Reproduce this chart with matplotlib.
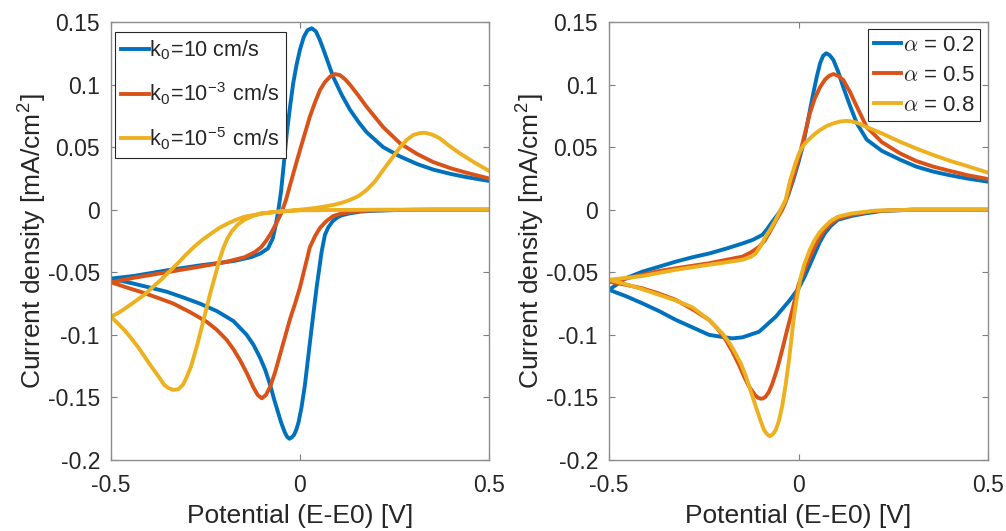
import matplotlib
matplotlib.use("Agg")
import matplotlib.pyplot as plt

plt.rcParams["font.family"] = ["Liberation Sans", "DejaVu Sans"]
plt.rcParams["mathtext.fontset"] = "cm"
plt.rcParams["axes.unicode_minus"] = False

COLORS = ["#0072BD", "#D95319", "#EDB120"]

# ---- left panel: effect of k0 (sweep 0.5 -> -0.5 -> 0.5) ----
k_blue_E = [0.5, 0.35, 0.25, 0.2, 0.16, 0.13, 0.11, 0.1, 0.087, 0.075, 0.066, 0.057, 0.044, 0.031, 0.022,
            0.013, 0.004, -0.004, -0.01, -0.016, -0.022, -0.028, -0.034, -0.04, -0.05, -0.057, -0.068, -0.079,
            -0.092, -0.106, -0.123, -0.141, -0.176, -0.22, -0.265, -0.31, -0.353, -0.4, -0.441, -0.5,
            -0.441, -0.353, -0.265, -0.176, -0.13, -0.105, -0.085, -0.072, -0.064, -0.057, -0.05, -0.043,
            -0.035, -0.026, -0.018, -0.009, 0.0, 0.01, 0.02, 0.031, 0.042, 0.052, 0.062, 0.075, 0.088, 0.11,
            0.132, 0.155, 0.176, 0.22, 0.265, 0.31, 0.353, 0.4, 0.441, 0.5]
k_blue_I = [0.0, 0.0, -0.0003, -0.0008, -0.0015, -0.003, -0.0045, -0.006, -0.009, -0.014, -0.02, -0.034, -0.062,
            -0.094, -0.117, -0.14, -0.158, -0.17, -0.176, -0.18, -0.182, -0.183, -0.1815, -0.178, -0.17, -0.163,
            -0.152, -0.14, -0.128, -0.118, -0.108, -0.1, -0.089, -0.081, -0.075, -0.07, -0.0655, -0.062,
            -0.059, -0.055,
            -0.053, -0.0485, -0.0445, -0.041, -0.038, -0.035, -0.031, -0.023, -0.012, 0.0, 0.015, 0.036,
            0.061, 0.083, 0.101, 0.116, 0.128, 0.138, 0.1435, 0.145, 0.1425, 0.136, 0.128, 0.117, 0.106, 0.092,
            0.08, 0.07, 0.062, 0.05, 0.0425, 0.0365, 0.032, 0.0285, 0.026, 0.023]

k_orange_E = [0.5, 0.3, 0.2, 0.16, 0.132, 0.11, 0.088, 0.07, 0.053, 0.04, 0.026, 0.018, 0.009, 0.0, -0.013,
              -0.026, -0.04, -0.053, -0.066, -0.079, -0.09, -0.101, -0.112, -0.124, -0.14, -0.159, -0.175,
              -0.194, -0.22, -0.247, -0.29, -0.335, -0.38, -0.423, -0.46, -0.5,
              -0.441, -0.353, -0.265, -0.2, -0.147, -0.12, -0.103, -0.09, -0.077, -0.063, -0.05, -0.038, -0.026,
              -0.013, 0.0, 0.013, 0.026, 0.04, 0.053, 0.066, 0.08, 0.093, 0.106, 0.12, 0.132, 0.155, 0.176,
              0.22, 0.265, 0.31, 0.353, 0.4, 0.441, 0.5]
k_orange_I = [0.0, 0.0, -0.0005, -0.001, -0.002, -0.003, -0.005, -0.009, -0.0145, -0.021, -0.03, -0.04, -0.051,
              -0.062, -0.075, -0.087, -0.102, -0.116, -0.13, -0.1415, -0.148, -0.1507, -0.148, -0.1415, -0.131,
              -0.12, -0.112, -0.104, -0.096, -0.0895, -0.082, -0.075, -0.07, -0.0655, -0.062, -0.058,
              -0.0545, -0.05, -0.0455, -0.042, -0.038, -0.034, -0.03, -0.025, -0.019, -0.011, -0.003, 0.007,
              0.02, 0.034, 0.0477, 0.061, 0.0743, 0.086, 0.0957, 0.102, 0.1065, 0.1084, 0.1075, 0.104, 0.1,
              0.091, 0.0823, 0.066, 0.053, 0.0445, 0.038, 0.033, 0.0295, 0.025]

k_yellow_E = [0.5, 0.2, 0.1, 0.0, -0.059, -0.103, -0.125, -0.147, -0.165, -0.18, -0.192, -0.202, -0.212, -0.222,
              -0.235, -0.253, -0.271, -0.288, -0.3, -0.31, -0.322, -0.335, -0.348, -0.359, -0.376, -0.394,
              -0.412, -0.429, -0.447, -0.465, -0.483, -0.5,
              -0.478, -0.456, -0.435, -0.412, -0.39, -0.368, -0.346, -0.324, -0.302, -0.28, -0.258, -0.235,
              -0.213, -0.191, -0.169, -0.147, -0.1, -0.059, 0.0, 0.044, 0.088, 0.11, 0.132, 0.155, 0.176,
              0.198, 0.22, 0.243, 0.265, 0.283, 0.3, 0.316, 0.331, 0.35, 0.37, 0.395, 0.423, 0.46, 0.5]
k_yellow_I = [0.0, 0.0, -0.0002, -0.0005, -0.0016, -0.003, -0.005, -0.008, -0.012, -0.017, -0.023, -0.03,
              -0.039, -0.05, -0.064, -0.0855, -0.107, -0.125, -0.134, -0.14, -0.1435, -0.144, -0.1425, -0.14,
              -0.1325, -0.125, -0.117, -0.1095, -0.1025, -0.096, -0.0905, -0.0855,
              -0.082, -0.0775, -0.073, -0.068, -0.062, -0.056, -0.0495, -0.043, -0.036, -0.0296, -0.024, -0.019,
              -0.0145, -0.011, -0.008, -0.0056, -0.003, -0.0016, 0.0, 0.0015, 0.0038, 0.0055, 0.0078, 0.011,
              0.0157, 0.0225, 0.0317, 0.041, 0.05, 0.056, 0.0597, 0.0612, 0.0615, 0.06, 0.057, 0.051, 0.045,
              0.038, 0.031]

# ---- right panel: effect of alpha ----
a_blue_E = [0.5, 0.3, 0.22, 0.175, 0.14, 0.104, 0.085, 0.069, 0.056, 0.043, 0.03, 0.016, 0.0, -0.025, -0.06,
            -0.104, -0.148, -0.175, -0.205, -0.236, -0.28, -0.324, -0.368, -0.412, -0.456, -0.5,
            -0.456, -0.412, -0.368, -0.324, -0.28, -0.236, -0.19, -0.148, -0.12, -0.095, -0.084, -0.07, -0.055,
            -0.04, -0.027, -0.014, 0.0, 0.013, 0.026, 0.039, 0.048, 0.057, 0.065, 0.073, 0.082, 0.092, 0.105,
            0.118, 0.136, 0.154, 0.18, 0.22, 0.268, 0.31, 0.356, 0.4, 0.444, 0.5]
a_blue_I = [0.0, 0.0, -0.001, -0.003, -0.005, -0.008, -0.013, -0.019, -0.026, -0.035, -0.044, -0.0535, -0.063,
            -0.073, -0.0855, -0.0975, -0.102, -0.1028, -0.1015, -0.1, -0.094, -0.088, -0.081, -0.0748, -0.069,
            -0.064,
            -0.0548, -0.0495, -0.0455, -0.0415, -0.038, -0.035, -0.031, -0.027, -0.024, -0.02, -0.016, -0.01,
            -0.004, 0.0024, 0.012, 0.0237, 0.038, 0.053, 0.073, 0.093, 0.106, 0.117, 0.123, 0.125, 0.1235,
            0.1197, 0.11, 0.098, 0.083, 0.069, 0.056, 0.047, 0.04, 0.0345, 0.0304, 0.0275, 0.025, 0.0224]

a_orange_E = [0.5, 0.3, 0.2, 0.14, 0.104, 0.085, 0.069, 0.056, 0.043, 0.03, 0.016, 0.0, -0.016, -0.03, -0.043,
              -0.056, -0.069, -0.078, -0.087, -0.094, -0.1, -0.107, -0.115, -0.131, -0.144, -0.157, -0.175,
              -0.192, -0.214, -0.236, -0.28, -0.324, -0.368, -0.412, -0.456, -0.5,
              -0.456, -0.412, -0.368, -0.324, -0.28, -0.236, -0.19, -0.148, -0.125, -0.104, -0.09, -0.078,
              -0.06, -0.043, -0.032, -0.022, -0.009, 0.004, 0.017, 0.03, 0.043, 0.057, 0.07, 0.081, 0.092,
              0.105, 0.118, 0.136, 0.154, 0.18, 0.22, 0.268, 0.31, 0.356, 0.4, 0.444, 0.5]
a_orange_I = [0.0, 0.0, -0.001, -0.004, -0.007, -0.011, -0.016, -0.022, -0.0296, -0.038, -0.048, -0.06, -0.08,
              -0.096, -0.112, -0.127, -0.139, -0.1455, -0.1495, -0.1508, -0.151, -0.1502, -0.148, -0.141, -0.133,
              -0.124, -0.113, -0.104, -0.095, -0.088, -0.0795, -0.072, -0.067, -0.0628, -0.06, -0.0575,
              -0.055, -0.052, -0.049, -0.0468, -0.0448, -0.0428, -0.04, -0.0375, -0.034, -0.0296, -0.025, -0.019,
              -0.009, 0.0, 0.008, 0.018, 0.031, 0.045, 0.061, 0.077, 0.089, 0.098, 0.104, 0.107, 0.1084, 0.107,
              0.1037, 0.094, 0.0823, 0.066, 0.054, 0.045, 0.039, 0.0344, 0.031, 0.0277, 0.0245]

a_yellow_E = [0.5, 0.3, 0.2, 0.14, 0.104, 0.085, 0.069, 0.056, 0.043, 0.03, 0.016, 0.005, -0.004, -0.012, -0.025,
              -0.034, -0.043, -0.052, -0.06, -0.068, -0.076, -0.084, -0.091, -0.102, -0.113, -0.126, -0.139,
              -0.152, -0.166, -0.183, -0.201, -0.236, -0.28, -0.324, -0.368, -0.412, -0.456, -0.5,
              -0.456, -0.412, -0.368, -0.324, -0.28, -0.236, -0.19, -0.148, -0.125, -0.113, -0.1, -0.087,
              -0.073, -0.06, -0.047, -0.034, -0.022, -0.009, 0.0, 0.008, 0.017, 0.03, 0.045, 0.057, 0.075,
              0.092, 0.11, 0.127, 0.14, 0.155, 0.18, 0.22, 0.268, 0.31, 0.356, 0.4, 0.444, 0.5]
a_yellow_I = [0.0, 0.0, -0.0008, -0.003, -0.0056, -0.009, -0.0136, -0.018, -0.024, -0.032, -0.043, -0.055, -0.07,
              -0.0855, -0.12, -0.14, -0.157, -0.169, -0.176, -0.1795, -0.181, -0.179, -0.176, -0.167, -0.157,
              -0.145, -0.133, -0.123, -0.115, -0.106, -0.0988, -0.088, -0.078, -0.0725, -0.068, -0.0635,
              -0.0595, -0.056,
              -0.0545, -0.053, -0.0505, -0.048, -0.046, -0.044, -0.042, -0.04, -0.0375, -0.035, -0.029, -0.0216,
              -0.015, -0.008, 0.0, 0.0078, 0.0235, 0.036, 0.044, 0.049, 0.053, 0.057, 0.061, 0.0637, 0.067,
              0.069, 0.0705, 0.071, 0.0705, 0.0695, 0.066, 0.061, 0.0543, 0.049, 0.0437, 0.039, 0.035, 0.0296]

k_labels = [r"k$_\mathregular{0}$=10 cm/s",
            r"k$_\mathregular{0}$=10$^\mathregular{-3}$ cm/s",
            r"k$_\mathregular{0}$=10$^\mathregular{-5}$ cm/s"]
a_labels = [r"$\alpha$ = 0.2", r"$\alpha$ = 0.5", r"$\alpha$ = 0.8"]

yticks = [0.15, 0.1, 0.05, 0, -0.05, -0.1, -0.15, -0.2]
ytick_labels = ["0.15", "0.1", "0.05", "0", "-0.05", "-0.1", "-0.15", "-0.2"]
xticks = [-0.5, 0, 0.5]
xtick_labels = ["-0.5", "0", "0.5"]

TXT = "#262626"
fig = plt.figure(figsize=(10.06, 5.31), dpi=100)
W, H = 1006, 531
ax1 = fig.add_axes([111 / W, 1 - 460 / H, 378 / W, 438 / H])
ax2 = fig.add_axes([609 / W, 1 - 460 / H, 379 / W, 438 / H])

left_series = [(k_blue_E, k_blue_I), (k_orange_E, k_orange_I), (k_yellow_E, k_yellow_I)]
right_series = [(a_blue_E, a_blue_I), (a_orange_E, a_orange_I), (a_yellow_E, a_yellow_I)]

for ax, series, labels in [(ax1, left_series, k_labels), (ax2, right_series, a_labels)]:
    for (E, I), c, lab in zip(series, COLORS, labels):
        ax.plot(E, I, color=c, lw=2.8, label=lab, solid_joinstyle="round")
    ax.set_xlim(-0.5, 0.5)
    ax.set_ylim(-0.2, 0.15)
    ax.set_xticks(xticks, xtick_labels)
    ax.set_yticks(yticks, ytick_labels)
    ax.tick_params(direction="in", top=True, right=True, length=4, width=0.8,
                   color="#7f7f7f", labelsize=16.5, labelcolor=TXT, pad=8)
    ax.tick_params(axis="x", pad=10)
    for sp in ax.spines.values():
        sp.set_color("#8c8c8c")
        sp.set_linewidth(1.0)
    ax.set_xlabel("Potential (E-E0) [V]", fontsize=19, color=TXT, labelpad=5)
    ax.set_ylabel(r"Current density [mA/cm$^\mathregular{2}$]", fontsize=19, color=TXT, labelpad=0)

leg1 = ax1.legend(loc="upper left", bbox_to_anchor=(0.0106, 0.977), borderaxespad=0, fontsize=15.5,
                  handlelength=1.3, handletextpad=0.0, labelspacing=0.85, borderpad=0.3,
                  fancybox=False, framealpha=1, edgecolor=TXT)
leg2 = ax2.legend(loc="upper right", bbox_to_anchor=(0.979, 0.983), borderaxespad=0, fontsize=16,
                  handlelength=1.2, handletextpad=0.1, labelspacing=0.4, borderpad=0.25,
                  fancybox=False, framealpha=1, edgecolor=TXT)
for leg in (leg1, leg2):
    leg.get_frame().set_linewidth(0.8)
    for t in leg.get_texts():
        t.set_color(TXT)

fig.savefig("out.png", dpi=100)
